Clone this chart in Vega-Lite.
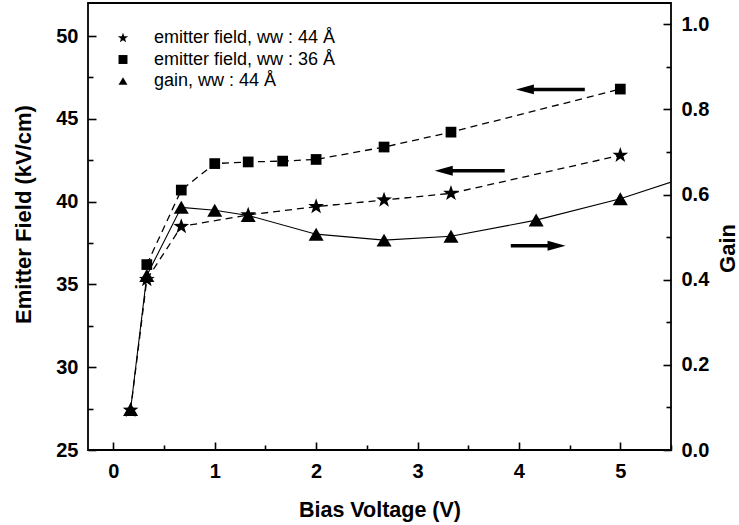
{
  "$schema": "https://vega.github.io/schema/vega-lite/v6.json",
  "width": 583,
  "height": 447,
  "autosize": {"type": "none"},
  "padding": {"left": 88, "top": 3, "right": 68, "bottom": 75},
  "background": "white",
  "config": {
    "view": {"stroke": "black", "strokeWidth": 1.8},
    "font": "Liberation Sans",
    "axis": {
      "grid": false,
      "domain": false,
      "tickColor": "black",
      "tickWidth": 1.6,
      "labelColor": "black",
      "labelFontWeight": "bold",
      "labelFontSize": 20,
      "titleColor": "black",
      "titleFontWeight": "bold",
      "titleFontSize": 22
    }
  },
  "resolve": {"scale": {"y": "independent"}},
  "layer": [
    {
      "data": {"values": [
        {"V": 0.17, "E": 27.4}, {"V": 0.33, "E": 35.3}, {"V": 0.67, "E": 38.5}, {"V": 1.33, "E": 39.2},
        {"V": 2.0, "E": 39.7}, {"V": 2.67, "E": 40.1}, {"V": 3.33, "E": 40.5}, {"V": 5.0, "E": 42.8}
      ]},
      "mark": {"type": "line", "color": "black", "strokeWidth": 1.3, "strokeDash": [7, 5]},
      "encoding": {
        "x": {
          "field": "V", "type": "quantitative",
          "scale": {"domain": [-0.25, 5.5], "nice": false, "zero": false},
          "axis": {
            "title": "Bias Voltage (V)",
            "values": [0, 0.5, 1, 1.5, 2, 2.5, 3, 3.5, 4, 4.5, 5, 5.5],
            "format": ".0f",
            "labelExpr": "datum.value % 1 === 0 ? datum.label : ''",
            "tickSize": -8,
            "tickDash": {"condition": {"test": "datum.value % 1 === 0", "value": [8, 0]}, "value": [5, 10]},
            "labelPadding": 19,
            "labelFlush": false,
            "titleFontSize": 21.5,
            "titlePadding": 18
          }
        },
        "y": {
          "field": "E", "type": "quantitative",
          "scale": {"domain": [25, 52], "nice": false, "zero": false},
          "axis": {
            "title": "Emitter Field (kV/cm)",
            "values": [25, 27.5, 30, 32.5, 35, 37.5, 40, 42.5, 45, 47.5, 50],
            "format": ".0f",
            "labelExpr": "datum.value % 5 === 0 ? datum.label : ''",
            "tickSize": -8,
            "tickDash": {"condition": {"test": "datum.value % 5 === 0", "value": [8, 0]}, "value": [5, 10]},
            "labelPadding": 18,
            "titlePadding": 20,
            "titleY": 211
          }
        }
      }
    },
    {
      "data": {"values": [
        {"V": 0.33, "E": 36.2}, {"V": 0.67, "E": 40.7}, {"V": 1.0, "E": 42.3}, {"V": 1.33, "E": 42.4},
        {"V": 1.67, "E": 42.45}, {"V": 2.0, "E": 42.55}, {"V": 2.67, "E": 43.3}, {"V": 3.33, "E": 44.2}, {"V": 5.0, "E": 46.8}
      ]},
      "mark": {"type": "line", "color": "black", "strokeWidth": 1.3, "strokeDash": [7, 5]},
      "encoding": {
        "x": {"field": "V", "type": "quantitative"},
        "y": {"field": "E", "type": "quantitative", "scale": {"domain": [25, 52], "nice": false, "zero": false}, "axis": null}
      }
    },
    {
      "data": {"values": [
        {"V": 0.17, "G": 0.095}, {"V": 0.33, "G": 0.41}, {"V": 0.67, "G": 0.57}, {"V": 1.0, "G": 0.563},
        {"V": 1.33, "G": 0.551}, {"V": 2.0, "G": 0.507}, {"V": 2.67, "G": 0.493}, {"V": 3.33, "G": 0.502},
        {"V": 4.17, "G": 0.54}, {"V": 5.0, "G": 0.59}, {"V": 5.83, "G": 0.655}
      ]},
      "mark": {"type": "line", "color": "black", "strokeWidth": 1.1, "clip": true},
      "encoding": {
        "x": {"field": "V", "type": "quantitative"},
        "y": {
          "field": "G", "type": "quantitative",
          "scale": {"domain": [0, 1.05], "nice": false, "zero": false},
          "axis": {
            "orient": "right",
            "title": "Gain",
            "values": [0, 0.1, 0.2, 0.3, 0.4, 0.5, 0.6, 0.7, 0.8, 0.9, 1.0],
            "format": ".1f",
            "labelExpr": "round(datum.value * 10) % 2 === 0 ? datum.label : ''",
            "tickSize": -8,
            "tickDash": {"condition": {"test": "round(datum.value * 10) % 2 === 0", "value": [8, 0]}, "value": [5, 10]},
            "labelPadding": 18,
            "titleAngle": 270,
            "titleBaseline": "top",
            "titlePadding": 9,
            "titleY": 245
          }
        }
      }
    },
    {
      "data": {"values": [
        {"V": 0.17, "E": 27.4, "series": "emitter field, ww : 44 Å"},
        {"V": 0.33, "E": 35.3, "series": "emitter field, ww : 44 Å"},
        {"V": 0.67, "E": 38.5, "series": "emitter field, ww : 44 Å"},
        {"V": 1.33, "E": 39.2, "series": "emitter field, ww : 44 Å"},
        {"V": 2.0, "E": 39.7, "series": "emitter field, ww : 44 Å"},
        {"V": 2.67, "E": 40.1, "series": "emitter field, ww : 44 Å"},
        {"V": 3.33, "E": 40.5, "series": "emitter field, ww : 44 Å"},
        {"V": 5.0, "E": 42.8, "series": "emitter field, ww : 44 Å"}
      ]},
      "mark": {"type": "point", "filled": true, "color": "black", "opacity": 1, "size": 190},
      "encoding": {
        "x": {"field": "V", "type": "quantitative"},
        "y": {"field": "E", "type": "quantitative", "scale": {"domain": [25, 52], "nice": false, "zero": false}, "axis": null},
        "shape": {
          "field": "series", "type": "nominal",
          "scale": {
            "domain": ["emitter field, ww : 44 Å", "emitter field, ww : 36 Å", "gain, ww : 44 Å"],
            "range": [
              "M0,-1.2L0.282,-0.388L1.141,-0.371L0.456,0.148L0.705,0.971L0,0.48L-0.705,0.971L-0.456,0.148L-1.141,-0.371L-0.282,-0.388Z",
              "square",
              "triangle-up"
            ]
          },
          "legend": {
            "title": null,
            "orient": "top-left",
            "offset": 26,
            "padding": 0,
            "labelFontSize": 18,
            "labelColor": "black",
            "labelLimit": 400,
            "labelOffset": 22,
            "symbolSize": 80,
            "rowPadding": 3.5,
            "symbolFillColor": "black",
            "symbolStrokeColor": "black",
            "symbolOpacity": 1
          }
        }
      }
    },
    {
      "data": {"values": [
        {"V": 0.33, "E": 36.2, "series": "emitter field, ww : 36 Å"},
        {"V": 0.67, "E": 40.7, "series": "emitter field, ww : 36 Å"},
        {"V": 1.0, "E": 42.3, "series": "emitter field, ww : 36 Å"},
        {"V": 1.33, "E": 42.4, "series": "emitter field, ww : 36 Å"},
        {"V": 1.67, "E": 42.45, "series": "emitter field, ww : 36 Å"},
        {"V": 2.0, "E": 42.55, "series": "emitter field, ww : 36 Å"},
        {"V": 2.67, "E": 43.3, "series": "emitter field, ww : 36 Å"},
        {"V": 3.33, "E": 44.2, "series": "emitter field, ww : 36 Å"},
        {"V": 5.0, "E": 46.8, "series": "emitter field, ww : 36 Å"}
      ]},
      "mark": {"type": "point", "filled": true, "color": "black", "opacity": 1, "size": 115},
      "encoding": {
        "x": {"field": "V", "type": "quantitative"},
        "y": {"field": "E", "type": "quantitative", "scale": {"domain": [25, 52], "nice": false, "zero": false}, "axis": null},
        "shape": {"field": "series", "type": "nominal"}
      }
    },
    {
      "data": {"values": [
        {"V": 0.17, "G": 0.095, "series": "gain, ww : 44 Å"},
        {"V": 0.33, "G": 0.41, "series": "gain, ww : 44 Å"},
        {"V": 0.67, "G": 0.57, "series": "gain, ww : 44 Å"},
        {"V": 1.0, "G": 0.563, "series": "gain, ww : 44 Å"},
        {"V": 1.33, "G": 0.551, "series": "gain, ww : 44 Å"},
        {"V": 2.0, "G": 0.507, "series": "gain, ww : 44 Å"},
        {"V": 2.67, "G": 0.493, "series": "gain, ww : 44 Å"},
        {"V": 3.33, "G": 0.502, "series": "gain, ww : 44 Å"},
        {"V": 4.17, "G": 0.54, "series": "gain, ww : 44 Å"},
        {"V": 5.0, "G": 0.59, "series": "gain, ww : 44 Å"}
      ]},
      "mark": {"type": "point", "filled": true, "color": "black", "opacity": 1, "size": 225},
      "encoding": {
        "x": {"field": "V", "type": "quantitative"},
        "y": {"field": "G", "type": "quantitative", "scale": {"domain": [0, 1.05], "nice": false, "zero": false}, "axis": null},
        "shape": {"field": "series", "type": "nominal"}
      }
    },
    {
      "data": {"values": [
        {"base": 4.14, "tail": 4.65, "E": 46.78},
        {"base": 3.34, "tail": 3.86, "E": 41.87},
        {"base": 4.29, "tail": 3.92, "E": 37.34}
      ]},
      "mark": {"type": "rule", "color": "black", "strokeWidth": 3.5},
      "encoding": {
        "x": {"field": "base", "type": "quantitative"},
        "x2": {"field": "tail"},
        "y": {"field": "E", "type": "quantitative", "scale": {"domain": [25, 52], "nice": false, "zero": false}, "axis": null}
      }
    },
    {
      "data": {"values": [
        {"tip": 3.97, "E": 46.78},
        {"tip": 3.17, "E": 41.87}
      ]},
      "mark": {"type": "point", "filled": true, "color": "black", "opacity": 1, "size": 324, "shape": "M0,0L2,-0.55L2,0.55Z"},
      "encoding": {
        "x": {"field": "tip", "type": "quantitative"},
        "y": {"field": "E", "type": "quantitative", "scale": {"domain": [25, 52], "nice": false, "zero": false}, "axis": null}
      }
    },
    {
      "data": {"values": [
        {"tip": 4.46, "E": 37.34}
      ]},
      "mark": {"type": "point", "filled": true, "color": "black", "opacity": 1, "size": 324, "shape": "M0,0L-2,-0.55L-2,0.55Z"},
      "encoding": {
        "x": {"field": "tip", "type": "quantitative"},
        "y": {"field": "E", "type": "quantitative", "scale": {"domain": [25, 52], "nice": false, "zero": false}, "axis": null}
      }
    }
  ]
}
